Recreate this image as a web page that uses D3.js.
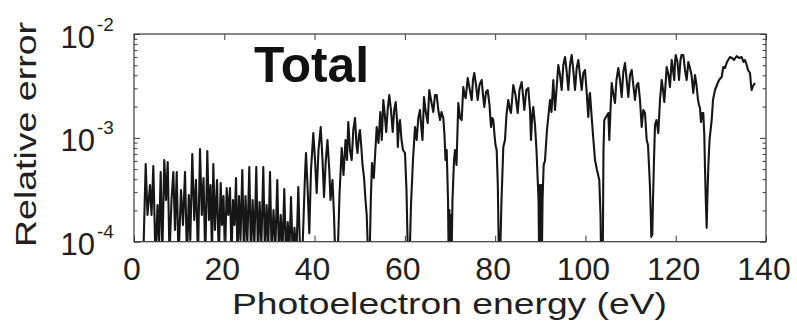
<!DOCTYPE html>
<html><head><meta charset="utf-8">
<script src="https://d3js.org/d3.v7.min.js"></script>
<style>
body{margin:0;background:#fff}
svg{display:block}
text{font-family:"Liberation Sans",Arial,Helvetica,sans-serif;fill:#231f20}
</style>
</head><body>
<svg id="chart" width="797" height="327"></svg>
<script>
// ---------- data ----------
const xTicks = [0, 20, 40, 60, 80, 100, 120, 140];
const yExponents = [-4, -3, -2];
const xTitle = "Photoelectron energy (eV)";
const yTitle = "Relative error";
const panelLabel = "Total";
// [photoelectron energy (eV), relative error]
const errorCurve = [
[1.55,6.7e-5],[2.10,8.3e-5],[2.59,5.6e-4],[2.99,1.81e-4],[3.54,3.52e-4],[3.88,1.81e-4],[4.28,5.36e-4],[4.76,6.7e-5],[5.21,2.26e-4],[5.54,9.3e-5],[5.91,4.69e-4],[6.27,7.4e-5],[6.71,6.12e-4],[7.09,2.52e-4],[7.47,5.85e-4],[7.86,7.4e-5],[8.31,2.52e-4],[8.71,4.69e-4],[9.08,1.30e-4],[9.46,4.69e-4],[9.86,6.7e-5],[10.41,3.15e-4],[10.85,1.45e-4],[11.30,4.69e-4],[11.74,6.7e-5],[12.14,2.82e-4],[12.47,1.04e-4],[12.91,6.99e-4],[13.34,1.62e-4],[13.73,3.93e-4],[14.18,7.0e-5],[14.62,7.81e-4],[15.02,1.81e-4],[15.40,4.11e-4],[15.79,6.7e-5],[16.24,7.47e-4],[16.61,1.62e-4],[16.95,3.52e-4],[17.28,7.4e-5],[17.57,5.60e-4],[17.94,1.30e-4],[18.39,3.93e-4],[18.78,7.0e-5],[19.21,3.68e-4],[19.49,1.45e-4],[19.83,2.75e-4],[20.16,7.0e-5],[20.53,3.29e-4],[20.89,1.81e-4],[21.27,3.29e-4],[21.60,7.0e-5],[21.93,2.52e-4],[22.26,1.45e-4],[22.60,4.11e-4],[22.93,7.0e-5],[23.26,2.75e-4],[23.59,1.04e-4],[23.99,4.90e-4],[24.37,7.0e-5],[24.70,2.75e-4],[25.10,9.3e-5],[25.54,5.24e-4],[25.92,7.0e-5],[26.27,2.52e-4],[26.67,9.3e-5],[27.09,5.24e-4],[27.47,7.0e-5],[27.82,2.41e-4],[28.22,9.3e-5],[28.64,5.24e-4],[29.02,7.0e-5],[29.37,2.26e-4],[29.75,9.3e-5],[30.13,4.69e-4],[30.50,7.0e-5],[30.90,2.02e-4],[31.32,8.7e-5],[31.74,3.93e-4],[32.12,7.0e-5],[32.50,1.81e-4],[32.90,8.3e-5],[33.29,3.22e-4],[33.67,7.0e-5],[34.05,1.55e-4],[34.42,8.0e-5],[34.78,2.69e-4],[35.18,6.7e-5],[35.55,1.36e-4],[35.95,7.0e-5],[36.40,3.36e-4],[36.84,6.4e-5],
[37.22,6.4e-5],[37.55,1.62e-4],[37.88,4.39e-4],[38.10,7.15e-4],[38.43,3.52e-4],[38.83,1.21e-4],[39.21,4.90e-4],[39.72,1.114e-3],[40.10,6.12e-4],[40.47,2.94e-4],[40.87,7.64e-4],[41.36,1.272e-3],[41.76,6.12e-4],[42.09,2.69e-4],[42.49,6.12e-4],[42.86,9.54e-4],[43.26,4.90e-4],[43.53,2.52e-4],[43.97,3.93e-4],[44.30,1.81e-4],[44.63,6.4e-5],
[45.08,6.4e-5],[45.52,2.82e-4],[46.01,7.99e-4],[46.41,4.39e-4],[46.85,9.54e-4],[47.18,6.12e-4],[47.47,1.421e-3],[47.85,7.64e-4],[48.22,6.12e-4],[48.58,1.19e-3],[48.96,1.553e-3],[49.29,8.53e-4],[49.51,7.15e-4],[49.84,1.066e-3],[50.06,1.19e-3],[50.40,7.64e-4],[50.62,5.48e-4],[50.95,4.20e-4],[51.28,2.52e-4],[51.55,1.81e-4],[51.90,6.4e-5],
[52.17,6.4e-5],[52.46,2.52e-4],[52.72,5.73e-4],[53.12,4.11e-4],[53.76,1.272e-3],[54.16,8.92e-4],[54.56,1.774e-3],[54.89,9.54e-4],[55.23,2.315e-3],[55.56,1.66e-3],[55.87,1.139e-3],[56.22,1.939e-3],[56.55,2.586e-3],[56.93,1.854e-3],[57.31,1.139e-3],[57.64,1.854e-3],[57.97,2.214e-3],[58.26,1.486e-3],[58.44,8.17e-4],[58.70,1.33e-3],[58.92,1.486e-3],[59.26,9.54e-4],[59.59,7.64e-4],[60.03,7.15e-4],[60.36,3.15e-4],[60.70,6.4e-5],
[61.03,6.4e-5],[61.36,2.26e-4],[61.80,6.12e-4],[62.25,1.272e-3],[62.62,9.54e-4],[62.98,1.553e-3],[63.35,1.854e-3],[63.69,1.19e-3],[63.91,9.54e-4],[64.24,2.474e-3],[64.57,1.854e-3],[65.06,1.39e-3],[65.41,2.889e-3],[65.79,2.315e-3],[66.30,1.774e-3],[66.68,2.586e-3],[67.05,2.586e-3],[67.41,1.854e-3],[67.79,1.486e-3],[68.12,1.774e-3],[68.52,1.553e-3],[68.78,1.066e-3],[69.00,6.12e-4],[69.27,7.64e-4],[69.56,2.52e-4],[69.71,6.4e-5],[69.87,2.02e-4],[70.02,6.4e-5],[70.18,1.81e-4],[70.33,6.4e-5],
[70.55,2.52e-4],[70.89,6.12e-4],[71.11,7.64e-4],[71.44,5.48e-4],[71.84,2.166e-3],[72.22,1.553e-3],[72.59,1.486e-3],[72.94,3.088e-3],[73.21,2.586e-3],[73.48,2.419e-3],[73.92,3.77e-3],[74.32,3.02e-3],[74.81,2.315e-3],[75.09,3.606e-3],[75.38,4.213e-3],[75.76,3.228e-3],[76.14,2.315e-3],[76.53,3.228e-3],[77.02,3.606e-3],[77.31,2.586e-3],[77.60,1.982e-3],[77.97,2.764e-3],[78.35,2.889e-3],[78.75,2.072e-3],[79.08,1.272e-3],[79.37,1.553e-3],[79.59,1.486e-3],[79.86,1.066e-3],[80.08,8.53e-4],[80.34,7.64e-4],[80.59,3.52e-4],[80.85,6.4e-5],
[81.07,6.4e-5],[81.41,2.52e-4],[81.81,8.17e-4],[82.18,9.54e-4],[82.51,1.66e-3],[82.91,2.315e-3],[83.29,1.854e-3],[83.51,1.735e-3],[84.02,3.228e-3],[84.51,2.586e-3],[85.00,1.735e-3],[85.39,2.889e-3],[85.88,3.45e-3],[86.17,2.586e-3],[86.46,1.854e-3],[86.90,2.889e-3],[87.34,3.02e-3],[87.72,1.854e-3],[87.94,9.54e-4],[88.23,1.66e-3],[88.45,1.982e-3],[88.83,1.33e-3],[89.16,7.64e-4],[89.43,3.93e-4],[89.61,2.52e-4],[89.76,6.4e-5],[89.89,3.52e-4],[90.05,6.4e-5],[90.21,3.52e-4],[90.34,6.4e-5],[90.50,2.52e-4],
[90.75,5.5e-4],[91.04,6.0e-4],[91.48,1.19e-3],[91.82,1.66e-3],[92.15,2.315e-3],[92.48,1.774e-3],[92.88,3.606e-3],[93.26,1.854e-3],[93.59,2.889e-3],[93.99,5.03e-3],[94.37,4.03e-3],[94.74,2.889e-3],[95.10,5.03e-3],[95.48,6.006e-3],[95.81,4.502e-3],[96.21,2.889e-3],[96.58,5.03e-3],[96.96,6.278e-3],[97.31,4.502e-3],[97.69,2.889e-3],[98.07,4.706e-3],[98.42,5.62e-3],[98.80,4.03e-3],[99.17,2.889e-3],[99.53,4.213e-3],[99.90,4.502e-3],[100.24,2.889e-3],[100.63,1.588e-3],[100.90,2.586e-3],[101.01,2.703e-3],[101.35,1.66e-3],[101.68,1.066e-3],[102.12,6.12e-4],[102.56,4.90e-4],[103.07,3.93e-4],[103.34,1.81e-4],[103.49,6.4e-5],
[103.83,6.4e-5],[104.00,7.64e-4],[104.18,1.486e-3],[104.56,1.588e-3],[105.07,1.735e-3],[105.29,9.54e-4],[105.55,1.854e-3],[105.82,3.374e-3],[106.22,2.586e-3],[106.55,2.166e-3],[106.88,3.606e-3],[107.28,4.706e-3],[107.66,3.606e-3],[108.03,2.474e-3],[108.39,4.307e-3],[108.77,5.258e-3],[109.14,3.606e-3],[109.50,2.474e-3],[109.87,4.03e-3],[110.25,4.502e-3],[110.60,3.228e-3],[110.98,2.315e-3],[111.36,3.228e-3],[111.71,3.374e-3],[112.09,2.315e-3],[112.46,1.272e-3],[112.82,1.854e-3],[113.20,1.735e-3],[113.57,9.54e-4],[113.86,8.53e-4],[114.08,5.48e-4],[114.30,3.36e-4],[114.48,1.81e-4],[114.59,1.11e-4],[114.70,1.93e-4],[114.81,1.16e-4],[114.97,2.52e-4],[115.19,6.12e-4],
[115.41,1.33e-3],[115.74,1.486e-3],[116.14,1.114e-3],[116.52,2.315e-3],[116.90,3.606e-3],[117.19,2.889e-3],[117.47,2.214e-3],[117.74,3.228e-3],[118.00,4.812e-3],[118.40,4.03e-3],[118.73,3.088e-3],[118.96,4.502e-3],[119.11,5.62e-3],[119.40,4.502e-3],[119.69,3.606e-3],[119.84,5.376e-3],[120.00,6.278e-3],[120.39,5.376e-3],[120.73,3.606e-3],[121.06,5.62e-3],[121.28,6.278e-3],[121.68,6.278e-3],[122.06,4.502e-3],[122.43,3.606e-3],[122.79,5.376e-3],[123.16,4.706e-3],[123.50,4.03e-3],[123.89,2.703e-3],[124.27,4.03e-3],[124.60,3.228e-3],[124.94,2.315e-3],[125.16,2.072e-3],[125.38,1.939e-3],[125.60,1.421e-3],[125.89,1.735e-3],[126.11,1.735e-3],[126.33,1.066e-3],[126.48,5.24e-4],[126.66,2.52e-4],[126.86,1.36e-4],[127.00,2.52e-4],[127.22,5.24e-4],
[127.49,9.54e-4],[127.97,1.486e-3],[128.26,2.315e-3],[128.70,2.889e-3],[129.14,3.228e-3],[129.59,3.606e-3],[130.18,3.855e-3],[130.54,4.812e-3],[130.92,4.706e-3],[131.36,5.376e-3],[132.02,6.006e-3],[132.47,5.875e-3],[132.91,5.62e-3],[133.51,6.14e-3],[134.02,5.875e-3],[134.62,6.006e-3],[135.02,5.376e-3],[135.35,5.62e-3],[135.73,5.03e-3],[136.01,4.502e-3],[136.46,4.213e-3],[136.68,3.228e-3],[136.83,2.889e-3],[137.12,3.157e-3],[137.57,3.374e-3]
];

// ---------- layout ----------
const plot = {left: 134, right: 766, top: 34, bottom: 241.7};
const svg = d3.select("#chart");
const x = d3.scaleLinear().domain([xTicks[0], xTicks[xTicks.length - 1]]).range([plot.left, plot.right]);
const y = d3.scaleLog().domain([Math.pow(10, yExponents[0]), Math.pow(10, yExponents[yExponents.length - 1])]).range([plot.bottom, plot.top]);

const majorY = yExponents.map(e => Math.pow(10, e));
const minorY = [];
for (let i = 0; i < yExponents.length - 1; i++) {
  for (let k = 2; k <= 9; k++) minorY.push(k * Math.pow(10, yExponents[i]));
}

svg.append("defs").append("clipPath").attr("id", "clip")
  .append("rect").attr("x", plot.left).attr("y", plot.top)
  .attr("width", plot.right - plot.left).attr("height", plot.bottom - plot.top);

// curve
const line = d3.line().x(d => x(d[0])).y(d => y(d[1]));
svg.append("path").datum(errorCurve)
  .attr("clip-path", "url(#clip)")
  .attr("d", line)
  .attr("fill", "none")
  .attr("stroke", "#161616")
  .attr("stroke-width", 2.1)
  .attr("stroke-linejoin", "round");

// axes (ticks pointing inward, no labels)
const axisStyle = g => {
  g.select(".domain").remove();
  g.selectAll(".tick line").attr("stroke", "#3a3a3a").attr("stroke-width", 1);
  g.selectAll(".tick text").remove();
};
svg.append("g").attr("transform", `translate(0,${plot.bottom})`)
  .call(d3.axisBottom(x).tickValues(xTicks).tickSize(-6).tickFormat("")).call(axisStyle);
svg.append("g").attr("transform", `translate(0,${plot.top})`)
  .call(d3.axisTop(x).tickValues(xTicks).tickSize(-6).tickFormat("")).call(axisStyle);
svg.append("g").attr("transform", `translate(${plot.left},0)`)
  .call(d3.axisLeft(y).tickValues(majorY).tickSize(-6).tickFormat("")).call(axisStyle);
svg.append("g").attr("transform", `translate(${plot.left},0)`)
  .call(d3.axisLeft(y).tickValues(minorY).tickSize(-3.5).tickFormat("")).call(axisStyle);
svg.append("g").attr("transform", `translate(${plot.right},0)`)
  .call(d3.axisRight(y).tickValues(majorY).tickSize(-6).tickFormat("")).call(axisStyle);
svg.append("g").attr("transform", `translate(${plot.right},0)`)
  .call(d3.axisRight(y).tickValues(minorY).tickSize(-3.5).tickFormat("")).call(axisStyle);

// frame
svg.append("rect").attr("x", plot.left).attr("y", plot.top)
  .attr("width", plot.right - plot.left).attr("height", plot.bottom - plot.top)
  .attr("fill", "none").attr("stroke", "#3a3a3a").attr("stroke-width", 1.2);

// x tick labels
svg.append("g").selectAll("text").data(xTicks).join("text")
  .attr("x", d => x(d) - 2).attr("y", 280)
  .attr("text-anchor", "middle").attr("font-size", 32)
  .text(d => d);

// y tick labels: 10^e
const yl = svg.append("g").selectAll("g").data(yExponents).join("g");
yl.append("text").attr("x", 95).attr("y", d => y(Math.pow(10, d)) + 13.5)
  .attr("text-anchor", "end").attr("font-size", 31).text("10");
yl.append("text").attr("x", 97).attr("y", d => y(Math.pow(10, d)) - 3.5)
  .attr("text-anchor", "start").attr("font-size", 19).text(d => "-" + Math.abs(d));

// axis titles
svg.append("text").attr("x", 449.5).attr("y", 314)
  .attr("text-anchor", "middle").attr("font-size", 30)
  .attr("textLength", 435).attr("lengthAdjust", "spacingAndGlyphs")
  .text(xTitle);
svg.append("text").attr("transform", "translate(36,134.5) rotate(-90)")
  .attr("text-anchor", "middle").attr("font-size", 30)
  .attr("textLength", 225).attr("lengthAdjust", "spacingAndGlyphs")
  .text(yTitle);

// panel label
svg.append("text").attr("x", 254).attr("y", 81.5)
  .attr("font-size", 50).attr("font-weight", "bold")
  .attr("textLength", 115).attr("lengthAdjust", "spacingAndGlyphs")
  .style("fill", "#111")
  .text(panelLabel);
</script>
</body></html>
